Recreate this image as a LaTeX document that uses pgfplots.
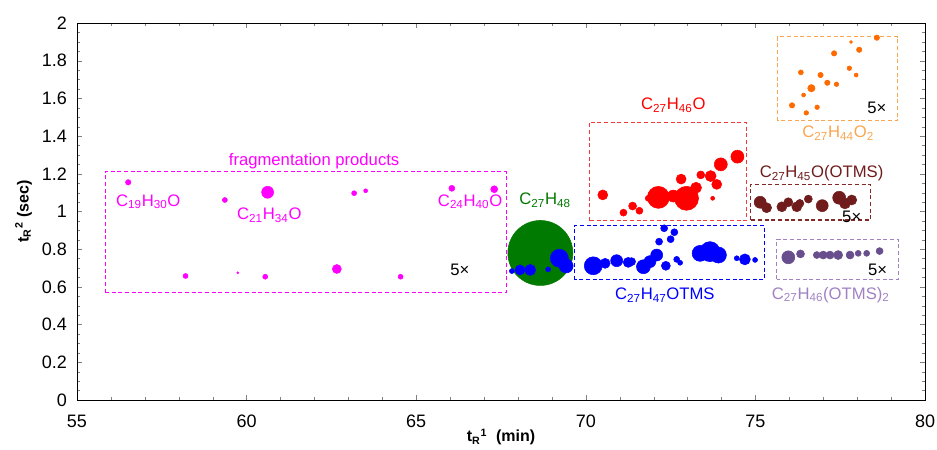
\documentclass[border=0pt]{standalone}
\usepackage{fontspec}
\setmainfont{Liberation Sans}
\usepackage{pgfplots}
\pgfplotsset{compat=1.18}
\definecolor{cmag}{RGB}{255,0,255}
\definecolor{cgreen}{RGB}{0,122,0}
\definecolor{cblue}{RGB}{0,0,255}
\definecolor{cred}{RGB}{255,0,0}
\definecolor{credbox}{RGB}{240,60,60}
\definecolor{corange}{RGB}{255,106,0}
\definecolor{corangebox}{RGB}{250,165,80}
\definecolor{cbrown}{RGB}{112,28,28}
\definecolor{cbrownbox}{RGB}{130,40,40}
\definecolor{cpurple}{RGB}{104,78,140}
\definecolor{cpurplebox}{RGB}{160,130,195}
\pgfplotsset{bub/.style={only marks, mark=*, scatter,
  scatter/use mapped color={draw=#1,fill=#1},
  visualization depends on={\thisrow{r}\as\rr},
  scatter/@pre marker code/.append style={/tikz/mark size=0.75*\rr}}}
\begin{document}
\begin{tikzpicture}
\begin{axis}[
  scale only axis, width=636pt, height=282.75pt,
  xmin=55, xmax=80, ymin=0, ymax=2,
  xtick={55,60,65,70,75,80}, minor x tick num=4,
  ytick={0,0.2,0.4,0.6,0.8,1,1.2,1.4,1.6,1.8,2}, minor y tick num=3,
  tick align=inside, major tick length=4pt, minor tick length=2.5pt,
  /pgf/number format/assume math mode=true,
  tick label style={font=\fontsize{13.5}{16}\selectfont},
  yticklabel style={xshift=-4pt},
  xticklabel style={yshift=-8pt},
  xlabel={\textbf{t\textsubscript{R}\textsuperscript{1}\ \ (min)}},
  ylabel={\textbf{t\textsubscript{R}\textsuperscript{2} (sec)}},
  label style={font=\fontsize{12}{14}\selectfont},
  xlabel style={at={(axis description cs:0.5,-0.098)}, anchor=center},
  ylabel style={at={(axis description cs:-0.063,0.5)}, anchor=center},
  axis line style={line width=0.6pt},
  clip=false,
]
% boxes
\draw[cmag, dashed, line width=0.8pt, dash pattern=on 3pt off 2pt] (axis cs:55.83,0.569) rectangle (axis cs:67.65,1.211);
\draw[credbox, dashed, line width=0.8pt, dash pattern=on 3pt off 2pt] (axis cs:70.10,0.951) rectangle (axis cs:74.74,1.473);
\draw[cblue, dashed, line width=0.8pt, dash pattern=on 3pt off 2pt] (axis cs:69.68,0.637) rectangle (axis cs:75.26,0.928);
\draw[corangebox, dashed, line width=0.8pt, dash pattern=on 3pt off 2pt] (axis cs:75.65,1.482) rectangle (axis cs:79.19,1.927);
\draw[cbrownbox, dashed, line width=0.8pt, dash pattern=on 3pt off 2pt] (axis cs:74.86,0.955) rectangle (axis cs:78.40,1.144);
\draw[cpurplebox, dashed, line width=0.8pt, dash pattern=on 3pt off 2pt] (axis cs:75.63,0.640) rectangle (axis cs:79.21,0.853);

% fragmentation products
\addplot[bub=cmag] table {
x y r
56.51 1.155 2.7
59.36 1.061 2.5
60.62 1.102 6
63.17 1.097 2.5
63.51 1.110 2
66.05 1.123 3
67.30 1.118 3.5
58.20 0.658 2.5
59.74 0.675 1
60.55 0.654 2.5
62.66 0.695 4.5
64.54 0.654 2.5
};
% C27H48
\addplot[bub=cgreen] table {
x y r
68.66 0.780 32.5
};
% C27H47OTMS
\addplot[bub=cblue] table {
x y r
67.82 0.684 2.5
68.06 0.690 5
68.36 0.690 5.5
68.89 0.693 2.5
69.22 0.752 9
69.42 0.711 7
70.22 0.712 9
70.57 0.725 5
70.91 0.739 6
71.25 0.730 5
71.35 0.734 4
71.70 0.707 7
71.89 0.734 6
72.09 0.769 6
72.31 0.911 3.5
72.61 0.890 3.5
72.16 0.840 3.5
72.50 0.853 3.5
72.36 0.712 4.5
72.68 0.746 3
72.78 0.728 2.5
73.37 0.778 8
73.66 0.787 10
73.91 0.769 8
74.45 0.752 2.5
74.69 0.746 5.5
74.99 0.743 2.5
};
% C27H46O
\addplot[bub=cred] table {
x y r
70.50 1.088 5
71.11 0.994 3.5
71.38 1.029 4
71.58 1.004 3.5
71.84 1.070 3
72.14 1.075 11
72.58 1.082 6
72.97 1.070 12
73.25 1.126 5.5
72.81 1.172 5
73.39 1.194 4
73.68 1.188 5.5
73.86 1.144 5
73.74 1.070 2
73.98 1.250 6.5
74.47 1.291 6.5
};
% C27H44O2
\addplot[bub=corange] table {
x y r
78.58 1.922 2.7
77.82 1.899 1.5
78.06 1.858 2.7
77.32 1.839 2.7
76.34 1.738 2.5
77.77 1.760 2.3
77.97 1.724 2
76.92 1.724 2.7
77.12 1.683 2.7
77.39 1.675 2.3
76.65 1.654 3.7
76.42 1.618 2
76.08 1.563 2.7
76.82 1.553 2.3
76.50 1.523 2.3
};
% C27H45O(OTMS)
\addplot[bub=cbrown] table {
x y r
75.14 1.049 6
75.33 1.020 5
75.78 1.025 5
75.97 1.049 4.5
76.22 1.025 5
76.31 1.043 4
76.56 1.066 4
76.97 1.031 6
77.47 1.073 6.5
77.64 1.043 5.5
77.84 1.061 5
};
% C27H46(OTMS)2
\addplot[bub=cpurple] table {
x y r
75.97 0.757 6.5
76.33 0.775 4
76.81 0.769 3.5
77.00 0.769 4
77.20 0.769 4
77.44 0.769 4.5
77.79 0.769 4
78.03 0.778 3
78.28 0.778 3
78.66 0.790 3.5
};

% labels
\begin{scope}[every node/.style={font=\fontsize{12.5}{15}\selectfont, inner sep=0pt}]
\node[cmag] at (axis cs:61.99,1.269) {fragmentation products};
\node[cmag] at (axis cs:57.10,1.052) {C\textsubscript{19}H\textsubscript{30}O};
\node[cmag] at (axis cs:60.67,0.981) {C\textsubscript{21}H\textsubscript{34}O};
\node[cmag] at (axis cs:66.59,1.052) {C\textsubscript{24}H\textsubscript{40}O};
\node[black] at (axis cs:66.29,0.693) {5×};
\node[cgreen] at (axis cs:68.80,1.061) {C\textsubscript{27}H\textsubscript{48}};
\node[cred] at (axis cs:72.58,1.565) {C\textsubscript{27}H\textsubscript{46}O};
\node[cblue] at (axis cs:72.33,0.557) {C\textsubscript{27}H\textsubscript{47}OTMS};
\node[corangebox] at (axis cs:77.44,1.416) {C\textsubscript{27}H\textsubscript{44}O\textsubscript{2}};
\node[black] at (axis cs:78.58,1.549) {5×};
\node[cbrown] at (axis cs:76.95,1.203) {C\textsubscript{27}H\textsubscript{45}O(OTMS)};
\node[black] at (axis cs:77.84,0.972) {5×};
\node[cpurplebox] at (axis cs:77.22,0.557) {C\textsubscript{27}H\textsubscript{46}(OTMS)\textsubscript{2}};
\node[black] at (axis cs:78.60,0.690) {5×};
\end{scope}
\end{axis}
\pgfresetboundingbox
\path[use as bounding box] (-57.75pt,-36.75pt) rectangle (645pt,300pt);
\end{tikzpicture}
\end{document}
